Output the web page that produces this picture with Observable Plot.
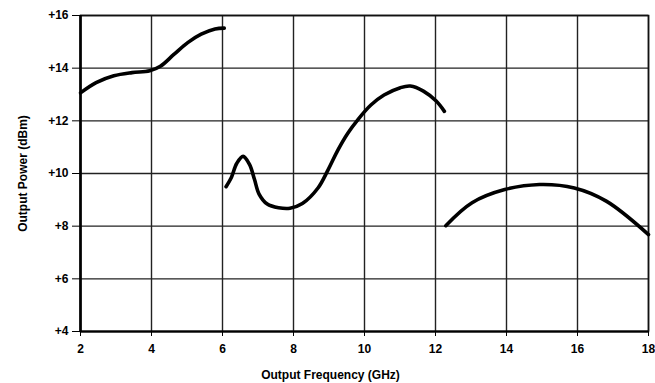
<!DOCTYPE html>
<html>
<head>
<meta charset="utf-8">
<script src="https://cdn.jsdelivr.net/npm/d3@7"></script>
<script src="https://cdn.jsdelivr.net/npm/@observablehq/plot@0.6"></script>
<style>
  html, body { margin: 0; padding: 0; background: #fff; }
  #chart svg { display: block; }
</style>
</head>
<body>
<div id="chart"></div>
<script>
// Segment 1 (2–6 GHz)
const seg1Freq  = [2.0, 2.44, 2.94, 3.45, 3.95, 4.25, 4.63, 5.02, 5.4, 5.79, 6.05];
const seg1Power = [13.06, 13.45, 13.71, 13.83, 13.9, 14.07, 14.52, 14.97, 15.29, 15.49, 15.52];
// Segment 2 (6–12.2 GHz)
const seg2Freq  = [6.1, 6.25, 6.4, 6.58, 6.76, 6.9, 7.03, 7.26, 7.58, 7.9, 8.25, 8.69, 8.97, 9.25, 9.53, 9.81, 10.18, 10.55, 11.01, 11.29, 11.66, 12.02, 12.25];
const seg2Power = [9.5, 9.85, 10.38, 10.65, 10.35, 9.78, 9.22, 8.84, 8.7, 8.68, 8.86, 9.45, 10.13, 10.89, 11.53, 12.04, 12.6, 12.98, 13.26, 13.32, 13.13, 12.75, 12.36];
// Segment 3 (12.3–18 GHz)
const seg3Freq  = [12.29, 13.03, 13.95, 14.93, 15.91, 16.81, 18.0];
const seg3Power = [8.02, 8.89, 9.39, 9.58, 9.45, 8.95, 7.68];

const xTicks = [2, 4, 6, 8, 10, 12, 14, 16, 18];
const yTicks = [4, 6, 8, 10, 12, 14, 16];
const yTickLabels = ["+4", "+6", "+8", "+10", "+12", "+14", "+16"];
const xLabel = "Output Frequency (GHz)";
const yLabel = "Output Power (dBm)";

const rows = [];
[[seg1Freq, seg1Power, "s1"], [seg2Freq, seg2Power, "s2"], [seg3Freq, seg3Power, "s3"]]
  .forEach(([f, p, s]) => f.forEach((v, i) => rows.push({f: v, p: p[i], s})));

const font = "'Liberation Sans', Arial, sans-serif";

const chart = Plot.plot({
  width: 655,
  height: 383,
  marginLeft: 80,
  marginRight: 7,
  marginTop: 15,
  marginBottom: 52,
  style: {fontFamily: font, fontSize: "12px", fontWeight: "bold", color: "#000", background: "#fff"},
  x: {domain: [2, 18]},
  y: {domain: [4, 16]},
  marks: [
    Plot.gridX(xTicks, {stroke: "#222", strokeOpacity: 1, strokeWidth: 1.4}),
    Plot.gridY(yTicks, {stroke: "#222", strokeOpacity: 1, strokeWidth: 1.4}),
    Plot.frame({stroke: "#111", strokeWidth: 1.6}),
    Plot.ruleX([2], {stroke: "#000", strokeWidth: 2.6}),
    Plot.ruleY([4], {stroke: "#000", strokeWidth: 2}),
    Plot.line(rows, {x: "f", y: "p", z: "s", curve: "catmull-rom", stroke: "#000", strokeWidth: 3.6, strokeLinecap: "round", strokeLinejoin: "round"}),
    Plot.axisX({ticks: xTicks, tickSize: 5, tickPadding: 8, label: null, fontSize: 12, fontWeight: "bold"}),
    Plot.axisY({ticks: yTicks, tickSize: 8, tickPadding: 4, tickFormat: (d) => yTickLabels[yTicks.indexOf(d)],
      label: yLabel, labelAnchor: "center", labelArrow: "none", labelOffset: 62, fontSize: 12, fontWeight: "bold"}),
    Plot.text([xLabel], {frameAnchor: "bottom", dx: -34, dy: 44, text: (d) => d, fontSize: 12, fontWeight: "bold", lineAnchor: "middle"})
  ]
});
document.getElementById("chart").appendChild(chart);
</script>
</body>
</html>
